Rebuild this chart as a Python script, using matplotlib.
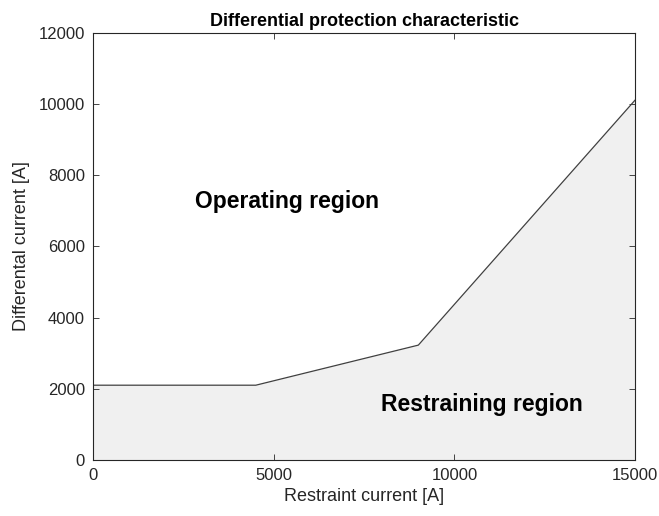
import matplotlib
matplotlib.use("Agg")
from matplotlib import pyplot as plt

# характеристика диференційного захисту: струм гальмування -> диференційний струм
restraint_current = [0, 4500, 9000, 15000]
differential_current = [2100, 2100, 3225, 10100]

x_ticks = [0, 5000, 10000, 15000]
y_ticks = [0, 2000, 4000, 6000, 8000, 10000, 12000]

plt.rcParams['font.family'] = ['Liberation Sans', 'DejaVu Sans']

fig = plt.figure(figsize=(6.59, 5.16), dpi=100)
ax = fig.add_axes([0.1416, 0.1085, 0.822, 0.8285])

# зона гальмування під характеристикою
ax.fill_between(restraint_current, differential_current, 0, color='#f0f0f0', linewidth=0)
ax.plot(restraint_current, differential_current, color='#404040', linewidth=0.9)

ax.set_xlim(0, 15000)
ax.set_ylim(0, 12000)
ax.set_xticks(x_ticks)
ax.set_yticks(y_ticks)

ax.text(5350, 7250, 'Operating region', fontsize=16.5, fontweight='bold',
        ha='center', va='center', color='black')
ax.text(10750, 1550, 'Restraining region', fontsize=16.5, fontweight='bold',
        ha='center', va='center', color='black')

ax.set_title('Differential protection characteristic', fontsize=13, fontweight='bold', pad=5)
ax.set_xlabel('Restraint current [A]', fontsize=13, color='#262626', labelpad=3)
ax.set_ylabel('Differental current [A]', fontsize=13, color='#262626', labelpad=6)

ax.tick_params(direction='in', top=True, right=True, length=4, width=0.6,
               labelsize=12, colors='#262626', pad=6)
for side in ax.spines.values():
    side.set_linewidth(0.8)
    side.set_color('#262626')

fig.savefig('out.png', dpi=100)
